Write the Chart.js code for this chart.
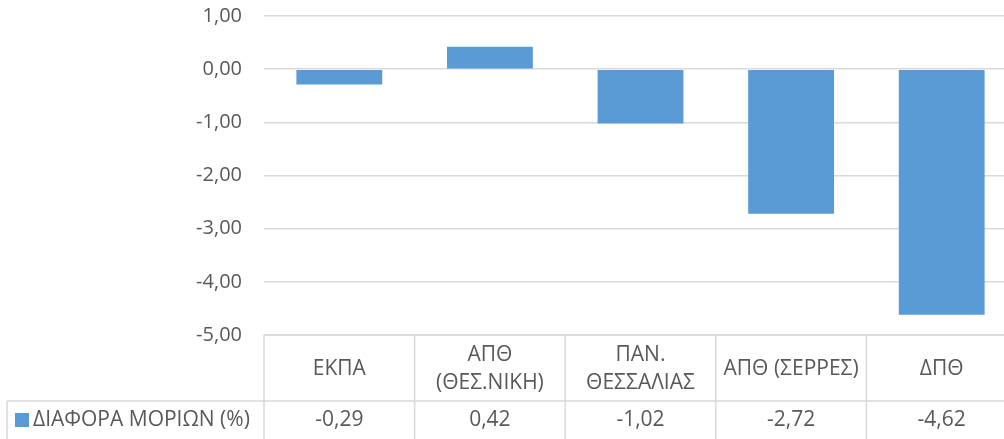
<!DOCTYPE html>
<html>
<head>
<meta charset="utf-8">
<script src="https://cdn.jsdelivr.net/npm/chart.js@4"></script>
<style>
  html, body { margin: 0; padding: 0; background: #fff; overflow: hidden; }
  #wrap { width: 1004px; height: 439px; overflow: hidden; }
</style>
</head>
<body>
<div id="wrap">
  <canvas id="myChart" width="1030" height="439"></canvas>
</div>
<script>
// data
const categories = [["ΕΚΠΑ"], ["ΑΠΘ", "(ΘΕΣ.ΝΙΚΗ)"], ["ΠΑΝ.", "ΘΕΣΣΑΛΙΑΣ"], ["ΑΠΘ (ΣΕΡΡΕΣ)"], ["ΔΠΘ"]];
const seriesName = "ΔΙΑΦΟΡΑ ΜΟΡΙΩΝ (%)";
const diffValues = [-0.29, 0.42, -1.02, -2.72, -4.62];
const yTicks = [1, 0, -1, -2, -3, -4, -5];

const FONT = "'Open Sans', 'Noto Sans', sans-serif";
const TEXT = "#595959";
const LINE = "#d9d9d9";
const BAR = "#5b9bd5";

const fmt = (v) => v.toFixed(2).replace(".", ",");

// draws the data table under the plot (Excel style)
const dataTable = {
  id: "dataTable",
  afterDraw(chart) {
    const ctx = chart.ctx;
    const area = chart.chartArea;
    const n = categories.length;
    const colW = (area.right - area.left) / n;
    const top = area.bottom;
    const mid = top + 66;
    const bottom = chart.height + 5;

    ctx.save();
    ctx.strokeStyle = LINE;
    ctx.lineWidth = 1.5;
    ctx.beginPath();
    // horizontal lines
    ctx.moveTo(area.left, top);
    ctx.lineTo(chart.width, top);
    ctx.moveTo(7, mid);
    ctx.lineTo(chart.width, mid);
    // legend cell left edge
    ctx.moveTo(7, mid);
    ctx.lineTo(7, bottom);
    // column lines
    for (let i = 0; i <= n; i++) {
      const x = area.left + i * colW;
      ctx.moveTo(x, top);
      ctx.lineTo(x, bottom);
    }
    ctx.stroke();

    ctx.fillStyle = TEXT;
    ctx.font = "21px " + FONT;
    ctx.textAlign = "center";
    ctx.textBaseline = "middle";
    for (let i = 0; i < n; i++) {
      const cx = chart.scales.x.getPixelForValue(i);
      const lines = categories[i];
      const lh = 28;
      const y0 = (top + mid) / 2 - (lines.length - 1) * lh / 2 + 1;
      lines.forEach((t, j) => ctx.fillText(t, cx, y0 + j * lh));
      ctx.fillText(fmt(diffValues[i]), cx, mid + 19);
    }

    // legend key
    ctx.fillStyle = BAR;
    ctx.fillRect(15, mid + 12, 14, 14);
    ctx.fillStyle = TEXT;
    ctx.textAlign = "left";
    ctx.fillText(seriesName, 33, mid + 19);
    ctx.restore();
  }
};

const ctx = document.getElementById("myChart").getContext("2d");
new Chart(ctx, {
  type: "bar",
  data: {
    labels: categories,
    datasets: [
      {
        label: seriesName,
        data: diffValues,
        backgroundColor: BAR,
        borderWidth: 0,
        barPercentage: 0.57,
        categoryPercentage: 1,
      },
    ],
  },
  options: {
    responsive: false,
    animation: false,
    layout: { padding: { left: 0, right: 13, top: 0, bottom: 0 } },
    plugins: {
      legend: { display: false },
      tooltip: { enabled: false },
    },
    scales: {
      x: {
        ticks: { display: false },
        grid: { display: false },
        border: { display: false },
        afterFit: (scale) => { scale.height = 104; },
      },
      y: {
        min: -5,
        max: 1,
        afterBuildTicks: (scale) => { scale.ticks = yTicks.map((v) => ({ value: v })); },
        ticks: {
          color: TEXT,
          font: { family: FONT, size: 20 },
          padding: 22,
          callback: (v) => fmt(v),
        },
        grid: { color: LINE, lineWidth: 1.5, drawTicks: false },
        border: { display: false },
        afterFit: (scale) => {
          scale.width = 264;
          scale.paddingTop = 16;
          scale.paddingBottom = 0;
        },
      },
    },
  },
  plugins: [dataTable],
});
</script>
</body>
</html>
